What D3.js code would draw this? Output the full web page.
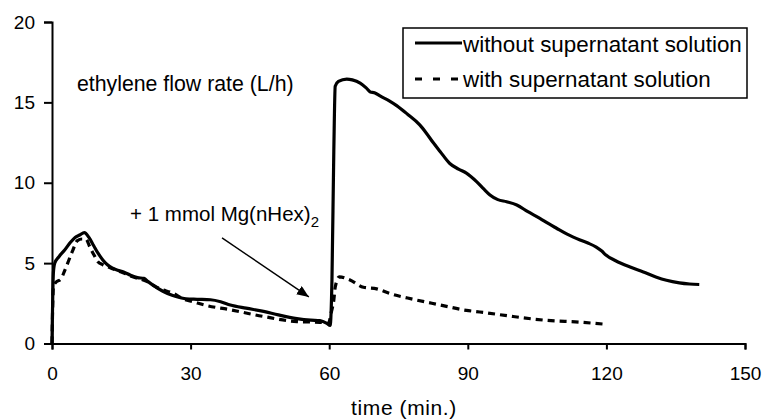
<!DOCTYPE html>
<html>
  <head>
    <meta charset="utf-8">
    <title>Ethylene flow rate</title>
    <script src="https://d3js.org/d3.v7.min.js"></script>
    <style>
      body { margin: 0; background: #fff; }
      svg text { font-family: "Liberation Sans", Arial, sans-serif; fill: #000; }
      .axis path, .axis line { stroke: #000; stroke-width: 2; }
      .axis text { font-size: 19px; }
    </style>
  </head>
  <body>
    <svg id="chart" width="766" height="420"></svg>
    <script>
      // values: time (min.) and ethylene flow rate (L/h)
      var timeWithout = [0, 0.3, 0.6, 1.5, 2.7, 4, 5, 6, 7, 8, 9, 10, 11, 12, 13, 14.2, 15.5, 17, 18.5, 19.9, 20.8, 22, 24, 26, 27.8, 29, 31.4, 34.3, 36.5, 38.6, 42, 45.8, 49, 53, 56, 58, 59.5, 60.2, 60.6, 61, 61.3, 62, 63.8, 65, 66.7, 68, 68.9, 69.8, 71, 73, 74.6, 77, 79.6, 81, 82.5, 84, 86.1, 88, 89.7, 91.9, 93.5, 94.8, 96.5, 98.4, 100.6, 103, 105.6, 107.5, 109.2, 111.5, 114.3, 116, 117.8, 119, 119.9, 122, 125, 128, 130.7, 133, 135.8, 138, 140.1];
      var rateWithout = [0, 4.4, 5.0, 5.4, 5.8, 6.3, 6.6, 6.75, 6.9, 6.6, 6.1, 5.6, 5.2, 4.9, 4.7, 4.55, 4.45, 4.25, 4.1, 4.05, 3.85, 3.6, 3.25, 3.0, 2.85, 2.78, 2.75, 2.72, 2.6, 2.4, 2.2, 2.0, 1.78, 1.55, 1.45, 1.42, 1.25, 1.12, 4, 12, 16.0, 16.3, 16.45, 16.4, 16.2, 15.9, 15.65, 15.6, 15.4, 15.1, 14.8, 14.25, 13.6, 13.1, 12.5, 11.95, 11.2, 10.85, 10.6, 10.07, 9.6, 9.24, 8.95, 8.82, 8.62, 8.2, 7.79, 7.45, 7.17, 6.8, 6.44, 6.25, 6.0, 5.75, 5.5, 5.15, 4.77, 4.45, 4.14, 3.93, 3.77, 3.7, 3.67];
      var timeWith = [0, 0.3, 0.8, 1.9, 2.7, 3.4, 4.5, 5.5, 6.5, 7.3, 8.2, 9.1, 9.9, 11, 12.7, 15, 17, 20.6, 23, 26.4, 28.6, 30.5, 32.9, 38.6, 45.8, 53, 58, 59.8, 60.5, 61, 61.3, 62.2, 64.5, 67.4, 70.3, 73.2, 78.2, 84, 89.7, 92.6, 99.8, 107, 114.2, 119.6];
      var rateWith = [0, 3.5, 3.8, 4.0, 4.5, 5.0, 5.8, 6.4, 6.5, 6.5, 6.0, 5.5, 5.1, 4.9, 4.7, 4.45, 4.2, 3.85, 3.45, 3.1, 2.75, 2.6, 2.4, 2.1, 1.68, 1.36, 1.32, 1.25, 2.0, 2.7, 3.5, 4.15, 3.95, 3.5, 3.4, 3.1, 2.75, 2.4, 2.06, 1.96, 1.68, 1.44, 1.33, 1.2];
      var xTicks = [0, 30, 60, 90, 120, 150];
      var yTicks = [0, 5, 10, 15, 20];
      var seriesNames = ["without supernatant solution", "with supernatant solution"];

      var svg = d3.select("#chart");
      var x = d3.scaleLinear().domain([0, 150]).range([52, 745]);
      var y = d3.scaleLinear().domain([0, 20]).range([343.5, 22]);

      // axes
      svg.append("g")
        .attr("class", "axis")
        .attr("transform", "translate(0, " + y(0) + ")")
        .call(d3.axisBottom(x).tickValues(xTicks).tickSize(6).tickPadding(17));
      svg.append("g")
        .attr("class", "axis")
        .attr("transform", "translate(" + x(0) + ", 0)")
        .call(d3.axisLeft(y).tickValues(yTicks).tickSize(8).tickPadding(9));

      // curves
      var line = d3.line()
        .x(function(d) { return x(d[0]); })
        .y(function(d) { return y(d[1]); })
        .curve(d3.curveMonotoneX);
      svg.append("path")
        .attr("d", line(d3.zip(timeWithout, rateWithout)))
        .attr("fill", "none")
        .attr("stroke", "#000")
        .attr("stroke-width", 3.2)
        .attr("stroke-linejoin", "round");
      svg.append("path")
        .attr("d", line(d3.zip(timeWith, rateWith)))
        .attr("fill", "none")
        .attr("stroke", "#000")
        .attr("stroke-width", 3.2)
        .attr("stroke-dasharray", "7,5");

      // labels
      svg.append("text")
        .attr("x", x(5.4))
        .attr("y", y(15.7))
        .style("font-size", "21.3px")
        .text("ethylene flow rate (L/h)");
      var note = svg.append("text")
        .attr("x", x(16.9))
        .attr("y", y(7.65))
        .style("font-size", "20.5px")
        .text("+ 1 mmol Mg(nHex)");
      note.append("tspan")
        .attr("dy", 6)
        .style("font-size", "15px")
        .text("2");
      svg.append("text")
        .attr("x", 404)
        .attr("y", 415)
        .attr("text-anchor", "middle")
        .style("font-size", "21px")
        .style("letter-spacing", "0.6px")
        .text("time (min.)");

      // arrow
      svg.append("defs").append("marker")
        .attr("id", "head")
        .attr("viewBox", "0 0 12 10")
        .attr("refX", 12)
        .attr("refY", 5)
        .attr("markerWidth", 12)
        .attr("markerHeight", 10)
        .attr("markerUnits", "userSpaceOnUse")
        .attr("orient", "auto")
        .append("path")
          .attr("d", "M0,0L12,5L0,10Z")
          .attr("fill", "#000");
      svg.append("line")
        .attr("x1", x(36.8)).attr("y1", y(6.57))
        .attr("x2", x(55.6)).attr("y2", y(2.9))
        .attr("stroke", "#000")
        .attr("stroke-width", 1.4)
        .attr("marker-end", "url(#head)");

      // legend
      var legend = svg.append("g").attr("transform", "translate(403, 28)");
      legend.append("rect")
        .attr("width", 344)
        .attr("height", 70)
        .attr("fill", "#fff")
        .attr("stroke", "#000")
        .attr("stroke-width", 1.5);
      seriesNames.forEach(function(name, i) {
        legend.append("line")
          .attr("x1", 12).attr("x2", 59)
          .attr("y1", 15 + i * 36).attr("y2", 15 + i * 36)
          .attr("stroke", "#000")
          .attr("stroke-width", 3)
          .attr("stroke-dasharray", i == 1 ? "7,11" : null);
        legend.append("text")
          .attr("x", 60)
          .attr("y", 24 + i * 35)
          .style("font-size", "22.4px")
          .text(name);
      });
    </script>
  </body>
</html>
